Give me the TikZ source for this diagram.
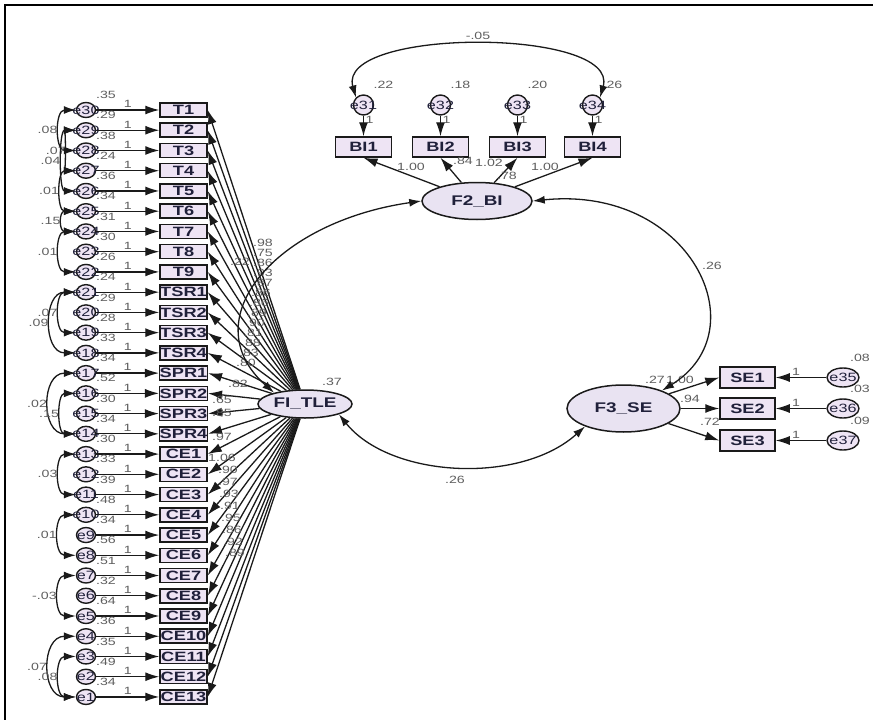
\documentclass[tikz,border=0pt]{standalone}
\usepackage{fontspec}
\setmainfont{Liberation Sans}
\newfontfamily\stretchfont[FakeStretch=1.35]{Liberation Sans}
\usetikzlibrary{arrows.meta,shapes.geometric}
\definecolor{boxfill}{HTML}{EEE4F4}
\definecolor{latfill}{HTML}{E9E3F2}
\definecolor{txtc}{HTML}{20203A}
\definecolor{numc}{HTML}{5E5E5E}
\definecolor{linec}{HTML}{1A1A1A}
\newcommand\boxfnt{\stretchfont\bfseries\fontsize{13.5}{14}\selectfont}
\newcommand\latfnt{\stretchfont\bfseries\fontsize{14}{15}\selectfont}
\newcommand\numfnt{\stretchfont\fontsize{10.5}{11}\selectfont}
\newcommand\errfnt{\stretchfont\fontsize{12}{12}\selectfont}
\tikzset{
 obsbox/.style={draw=linec, line width=1.5pt, fill=boxfill, inner sep=0pt, minimum width=47pt, minimum height=14pt, font=\boxfnt, text=txtc},
 obsbig/.style={obsbox, minimum width=56pt, minimum height=20pt},
 latent/.style={ellipse, draw=linec, line width=1.5pt, fill=latfill, inner sep=0pt, font=\latfnt, text=txtc},
 errc/.style={ellipse, draw=linec, line width=1.4pt, fill=boxfill, inner sep=0pt, minimum width=19pt, minimum height=15pt},
 errtxt/.style={font=\errfnt, text=txtc, inner sep=0pt},
 num/.style={font=\numfnt, text=numc, inner sep=0pt},
 reg/.style={draw=linec, line width=1.3pt, -{Latex[length=14pt,width=9pt]}},
 cov/.style={draw=linec, line width=1.3pt, {Latex[length=12pt,width=8pt]}-{Latex[length=12pt,width=8pt]}},
}
\begin{document}
\begin{tikzpicture}[x=1pt,y=-1pt]
\useasboundingbox (0,0) rectangle (873,720);
% frame
\draw[line width=2.4pt] (5,730) -- (5,5) -- (880,5);

% latent variables
\node[latent, minimum width=94pt, minimum height=28pt] (fi) at (305,404) {FI\_TLE};
\node[latent, minimum width=110pt, minimum height=37pt] (f2) at (477,201) {F2\_BI};
\node[latent, minimum width=113pt, minimum height=47pt] (f3) at (623.5,408.5) {F3\_SE};

% left column indicators
\foreach \lab/\var [count=\i] in {T1/.35,T2/.29,T3/.38,T4/.24,T5/.36,T6/.34,T7/.31,T8/.30,T9/.26,TSR1/.24,TSR2/.29,TSR3/.28,TSR4/.33,SPR1/.34,SPR2/.52,SPR3/.30,SPR4/.34,CE1/.30,CE2/.33,CE3/.39,CE4/.48,CE5/.34,CE6/.56,CE7/.51,CE8/.32,CE9/.64,CE10/.36,CE11/.35,CE12/.49,CE13/.34}{
  \pgfmathsetmacro\yy{110+(\i-1)*20.24}
  \pgfmathtruncatemacro\en{31-\i}
  \node[obsbox] (b\i) at (183.5,\yy) {\lab};
  \node[errc, label={[errtxt]center:e\en}] (e\en) at (86,\yy) {};
  \draw[reg] (e\en) -- node[num, above=1.5pt] {1} (b\i);
  \node[num] (v\en) at (106,{\yy-15}) {\var};
}
% loadings from FI_TLE
\foreach \i in {1,...,30} \draw[reg] (fi) -- (b\i.east);
\foreach \v/\xx/\yy in {.98/263/243,.75/263/253,.86/263/263,.93/263/273,.87/263/283,.86/261/293,.86/259/303,.89/257/313,.90/255/323,.81/253/333,.88/251/343,.83/249/353,.80/246/363,.82/238/384,.65/222/400,.85/222/413,.97/222/437,1.06/222/458,.90/228/470,.97/228/482,.93/229/494,.91/230/506,.95/231/518,.86/232/530,.92/233/542,.89/235/553}
  \node[num] at (\xx,\yy) {\v};

% error covariances (left)
\foreach \a/\b/\d/\v in {30/28/21/.08, 29/27/10/.07, 29/26/17/.04, 27/25/19/.01, 25/24/17/.15, 24/22/21/.01, 21/19/21/.07, 21/18/33/.09, 17/14/35/.02, 16/14/19/.15, 13/11/21/.03, 10/8/22/.01, 7/5/22/-.03, 4/1/35/.07, 3/1/21/.08}
  \draw[cov] (e\a.west) .. controls +(-\d,0) and +(-\d,0) .. node[num, left=2pt, pos=0.5] {\v} (e\b.west);

% BI block
\foreach \k/\xx/\v in {1/363.5/.22,2/440.5/.18,3/517.5/.20,4/592.5/.26}{
  \pgfmathtruncatemacro\en{30+\k}
  \node[obsbig] (bi\k) at (\xx,147) {BI\k};
  \node[errc, minimum width=20pt, minimum height=20pt, label={[errtxt]center:e\en}] (e\en) at (\xx,105) {};
  \draw[reg] (e\en) -- node[num, right=1.5pt, pos=0.2] {1} (bi\k);
  \node[num] at ({\xx+20},85) {\v};
  \draw[reg] (f2) -- (bi\k.south);
}
\draw[cov] (e31.135) .. controls +(-20,-70) and +(20,-70) .. node[num, above=5pt, pos=0.5] {-.05} (e34.45);
\node[num] at (411,167) {1.00};
\node[num] at (463,161) {.84};
\node[num] at (489,163) {1.02};
\node[num] at (507,176) {.78};
\node[num] at (545,167) {1.00};

% SE block
\foreach \k/\yy/\en/\v in {1/377.5/35/.08, 2/408.5/36/.03, 3/440.5/37/.09}{
  \node[obsbig, minimum width=55pt, minimum height=21pt] (se\k) at (747.5,\yy) {SE\k};
  \node[errc, minimum width=32pt, minimum height=19pt, label={[errtxt]center:e\en}] (e\en) at (843,\yy) {};
  \draw[reg] (e\en) -- node[num, above=1.5pt, pos=0.6] {1} (se\k);
  \node[num] at (860,{\yy-20}) {\v};
  \draw[reg] (f3) -- (se\k.west);
}
\node[num] at (655,380) {.27};
\node[num] at (680,380) {1.00};
\node[num] at (690,399) {.94};
\node[num] at (710,422) {.72};

% latent covariances
\draw[cov] (fi.160) .. controls (192,320) and (275,222) .. (f2.west);
\draw[cov] (f2.east) .. controls (690,185) and (760,330) .. (f3.25);
\draw[cov] (fi.-17) .. controls (390,478) and (520,485) .. (f3.205);
\node[num] at (332,382) {.37};
\node[num] at (240,262) {.22};
\node[num] at (712,266) {.26};
\node[num] at (455,480) {.26};
\end{tikzpicture}
\end{document}
